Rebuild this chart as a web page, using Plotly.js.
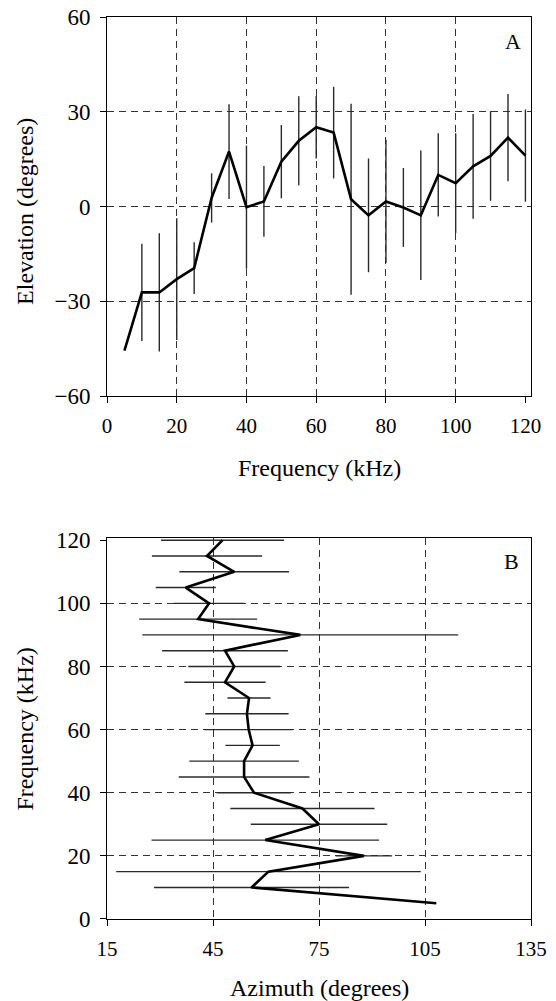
<!DOCTYPE html>
<html>
<head>
<meta charset="utf-8">
<script src="https://cdn.plot.ly/plotly-3.0.1.min.js"></script>
<style>
  html, body { margin: 0; padding: 0; background: #fff; }
  #chart { width: 556px; height: 1001px; }
</style>
</head>
<body>
<div id="chart"></div>
<script>
// Panel A: elevation vs frequency
const freqA = [5, 10, 15, 20, 25, 30, 35, 40, 45, 50, 55, 60, 65, 70, 75, 80, 85, 90, 95, 100, 105, 110, 115, 120];
const elevA = [-45.6, -27.2, -27.2, -23.0, -19.5, 2.7, 17.4, -0.2, 1.6, 14.2, 20.8, 25.1, 23.4, 2.3, -2.8, 1.6, -0.3, -2.8, 10.0, 7.4, 12.7, 16.0, 21.8, 16.1];
const errA  = [0, 15.4, 18.7, 19.3, 8.2, 7.8, 15.0, 19.5, 11.2, 11.6, 14.1, 9.9, 14.5, 30.2, 18.0, 19.5, 12.5, 20.5, 13.2, 15.8, 16.6, 14.2, 13.8, 14.6];

// Panel B: azimuth vs frequency
const freqB = [120, 115, 110, 105, 100, 95, 90, 85, 80, 75, 70, 65, 60, 55, 50, 45, 40, 35, 30, 25, 20, 15, 10, 5];
const azB   = [47.7, 43.3, 51.0, 37.3, 43.9, 40.8, 69.7, 48.4, 51.0, 48.4, 55.2, 54.6, 55.1, 56.2, 53.8, 53.8, 56.6, 70.3, 75.0, 59.8, 87.7, 60.7, 55.9, 108.2];
const errB  = [17.4, 15.6, 15.5, 8.5, 10.0, 16.7, 44.7, 17.8, 13.0, 11.5, 6.1, 11.8, 12.5, 7.7, 15.5, 18.5, 10.5, 20.4, 19.3, 32.2, 8.0, 43.1, 27.6, 0];

// Tick values
const xTicksA = [0, 20, 40, 60, 80, 100, 120];
const xGridA  = [20, 40, 60, 80, 100];
const yTicksA = [-60, -30, 0, 30, 60];
const xTicksB = [15, 45, 75, 105, 135];
const yTicksB = [0, 20, 40, 60, 80, 100, 120];
const yGridB  = [20, 40, 60, 80, 100];

const FONT = 'Liberation Serif';
const xTickFont = {family: FONT, size: 21, color: '#000'};
const yTickFont = {family: FONT, size: 23, color: '#000'};
const titleFont = {family: FONT, size: 24, color: '#000'};
const panelFont = {family: FONT, size: 22, color: '#000'};
const gridDash = '7px,5px';
const gridColor = '#333';

const traces = [
  {
    x: freqA, y: elevA, xaxis: 'x', yaxis: 'y',
    type: 'scatter', mode: 'lines',
    line: {color: '#000', width: 2.6},
    error_y: {type: 'data', array: errA, visible: true, color: '#2a2a2a', thickness: 1.4, width: 0},
    hoverinfo: 'skip'
  },
  {
    x: azB, y: freqB, xaxis: 'x2', yaxis: 'y2',
    type: 'scatter', mode: 'lines',
    line: {color: '#000', width: 2.6},
    error_x: {type: 'data', array: errB, visible: true, color: '#2a2a2a', thickness: 1.4, width: 0},
    hoverinfo: 'skip'
  },
  // empty helper traces so the grid-only overlay axes get drawn
  {x: [null], y: [null], xaxis: 'x3', yaxis: 'y', type: 'scatter', mode: 'lines', hoverinfo: 'skip'},
  {x: [null], y: [null], xaxis: 'x2', yaxis: 'y4', type: 'scatter', mode: 'lines', hoverinfo: 'skip'}
];

const baseAxis = {
  showline: true, linecolor: '#000', linewidth: 1, mirror: true,
  ticks: 'outside', ticklen: 6, tickwidth: 1, tickcolor: '#000',
  zeroline: false, fixedrange: true, ticklabelstandoff: 5
};

const layout = {
  width: 556, height: 1001,
  margin: {l: 107, r: 25, t: 17, b: 82},
  paper_bgcolor: '#fff', plot_bgcolor: '#fff',
  showlegend: false,
  font: {family: FONT, color: '#000'},
  xaxis: Object.assign({}, baseAxis, {
    domain: [0, 1], anchor: 'y', range: [0, 121.6], tickfont: xTickFont,
    tickmode: 'array', tickvals: xTicksA, showgrid: false
  }),
  xaxis3: {
    overlaying: 'x', anchor: 'y', side: 'bottom', range: [0, 121.6],
    tickmode: 'array', tickvals: xGridA, showgrid: true,
    griddash: gridDash, gridcolor: gridColor, gridwidth: 1,
    showticklabels: false, ticks: '', showline: false, zeroline: false, fixedrange: true
  },
  yaxis: Object.assign({}, baseAxis, {
    domain: [0.5798, 1], anchor: 'x', range: [-60, 60], tickfont: yTickFont,
    tickmode: 'array', tickvals: yTicksA, showgrid: true,
    griddash: gridDash, gridcolor: gridColor, gridwidth: 1
  }),
  xaxis2: Object.assign({}, baseAxis, {
    domain: [0, 1], anchor: 'y2', range: [15, 135], tickfont: xTickFont,
    tickmode: 'array', tickvals: xTicksB, showgrid: true,
    griddash: gridDash, gridcolor: gridColor, gridwidth: 1
  }),
  yaxis2: Object.assign({}, baseAxis, {
    domain: [0, 0.4224], anchor: 'x2', range: [0, 120.7], tickfont: yTickFont,
    tickmode: 'array', tickvals: yTicksB, showgrid: false
  }),
  yaxis4: {
    overlaying: 'y2', anchor: 'x2', side: 'left', range: [0, 120.7],
    tickmode: 'array', tickvals: yGridB, showgrid: true,
    griddash: gridDash, gridcolor: gridColor, gridwidth: 1,
    showticklabels: false, ticks: '', showline: false, zeroline: false, fixedrange: true
  },
  annotations: [
    {text: 'Frequency (kHz)', xref: 'paper', yref: 'paper', x: 0.5, y: 0.5,
     xanchor: 'center', yanchor: 'middle', showarrow: false, font: titleFont},
    {text: 'Elevation (degrees)', xref: 'paper', yref: 'paper', x: -0.1934, y: 0.785,
     xanchor: 'center', yanchor: 'middle', textangle: -90, showarrow: false, font: titleFont},
    {text: 'Azimuth (degrees)', xref: 'paper', yref: 'paper', x: 0.5, y: -0.0765,
     xanchor: 'center', yanchor: 'middle', showarrow: false, font: titleFont},
    {text: 'Frequency (kHz)', xref: 'paper', yref: 'paper', x: -0.1934, y: 0.2112,
     xanchor: 'center', yanchor: 'middle', textangle: -90, showarrow: false, font: titleFont},
    {text: 'A', xref: 'paper', yref: 'paper', x: 0.9575, y: 0.9723,
     xanchor: 'center', yanchor: 'middle', showarrow: false, font: panelFont},
    {text: 'B', xref: 'paper', yref: 'paper', x: 0.954, y: 0.396,
     xanchor: 'center', yanchor: 'middle', showarrow: false, font: panelFont}
  ]
};

Plotly.newPlot('chart', traces, layout, {staticPlot: true, displayModeBar: false});
</script>
</body>
</html>
